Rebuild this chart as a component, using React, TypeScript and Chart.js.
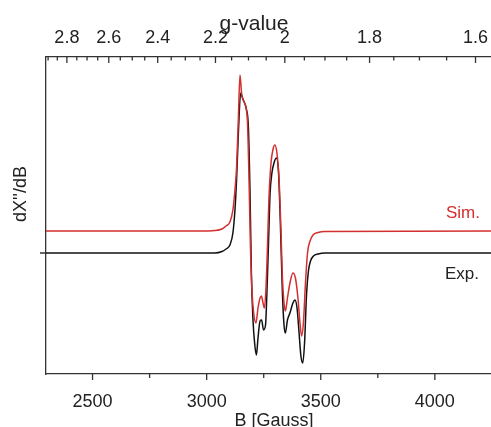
import React, { useEffect, useRef } from "react";
import { Chart, registerables } from "chart.js";

Chart.register(...registerables);

// ---- data ----
const bMajorTicks = [2500, 3000, 3500, 4000];
const bMinorTicks = [2750, 3250, 3750];
const gMajorTicks = [2.8, 2.6, 2.4, 2.2, 2.0, 1.8, 1.6];
const gTickLabels = ["2.8", "2.6", "2.4", "2.2", "2", "1.8", "1.6"];
const gMinorTicks = [2.9, 2.85, 2.75, 2.7, 2.65, 2.55, 2.5, 2.45, 2.35, 2.3, 2.25, 2.15, 2.1, 2.05, 1.95, 1.9, 1.85, 1.75, 1.7, 1.65];
const gFactor = 6685; // g * B [Gauss]
const bRange = [2296, 4246];
const yRange = [-121, 196];

const expB = [2296, 2970, 3036, 3067, 3085, 3102, 3115, 3124, 3131, 3139, 3149, 3157, 3166, 3174, 3183, 3190, 3196, 3203, 3211, 3218, 3225, 3234, 3241, 3249, 3258, 3264, 3271, 3278, 3286, 3295, 3306, 3315, 3323, 3332, 3339, 3345, 3354, 3365, 3378, 3387, 3396, 3405, 3413, 3421, 3429, 3438, 3446, 3455, 3468, 3488, 3519, 4246];
const expY = [0, 0, 0, 1.5, 4, 8, 20, 43, 73, 120, 160, 155, 150, 144, 125, 60, -20, -67, -92, -102, -85, -68, -67, -77, -72, -40, 10, 60, 80, 90, 95, 80, 30, -40, -72, -80, -67, -60, -50, -47, -55, -80, -103, -110, -90, -40, -18, -8, -3, -1, 0, 0];

const simB = [2296, 2970, 3036, 3067, 3085, 3102, 3115, 3124, 3131, 3139, 3146, 3153, 3160, 3172, 3179, 3186, 3192, 3199, 3207, 3216, 3225, 3234, 3240, 3247, 3253, 3260, 3267, 3273, 3282, 3291, 3299, 3308, 3317, 3326, 3332, 3339, 3345, 3354, 3365, 3378, 3389, 3400, 3409, 3416, 3424, 3433, 3442, 3453, 3466, 3488, 3519, 4246];
const simY = [22, 22, 22.5, 24, 27, 31, 43, 63, 85, 135, 178, 160, 153, 146, 130, 70, 5, -40, -62, -70, -55, -45, -43, -50, -55, -35, 10, 55, 90, 104, 108, 100, 75, 20, -25, -50, -58, -45, -30, -20, -25, -45, -70, -83, -70, -30, 0, 12, 18, 20.5, 21.5, 22];

// ---- styles ----
const FONT = "'Liberation Sans', Arial, Helvetica, sans-serif";
const AXIS = "#333333";
const TEXT = "#222222";
const RED = "#d42f2f";
const BLACK = "#111111";

const decorPlugin = {
  id: "decor",
  afterDraw(chart: any) {
    const { ctx, chartArea: a, scales } = chart;
    const x = scales.x;
    const x2 = scales.x2;
    const y = scales.y;
    ctx.save();
    ctx.strokeStyle = AXIS;
    ctx.lineWidth = 1.3;
    ctx.beginPath();
    bMajorTicks.forEach((v) => {
      const p = x.getPixelForValue(v);
      ctx.moveTo(p, a.bottom);
      ctx.lineTo(p, a.bottom + 6);
    });
    bMinorTicks.forEach((v) => {
      const p = x.getPixelForValue(v);
      ctx.moveTo(p, a.bottom);
      ctx.lineTo(p, a.bottom + 4);
    });
    gMajorTicks.forEach((g) => {
      const p = x2.getPixelForValue(gFactor / g);
      ctx.moveTo(p, a.top);
      ctx.lineTo(p, a.top + 6);
    });
    gMinorTicks.forEach((g) => {
      const p = x2.getPixelForValue(gFactor / g);
      ctx.moveTo(p, a.top);
      ctx.lineTo(p, a.top + 3.5);
    });
    const p0 = y.getPixelForValue(0);
    ctx.moveTo(a.left - 6, p0);
    ctx.lineTo(a.left, p0);
    ctx.stroke();

    ctx.fillStyle = TEXT;
    ctx.textBaseline = "alphabetic";
    ctx.textAlign = "center";
    ctx.font = `21px ${FONT}`;
    ctx.fillText("g-value", 254, 30);
    ctx.font = `18px ${FONT}`;
    ctx.fillText("B [Gauss]", 274, 426);

    ctx.save();
    ctx.translate(21, 194);
    ctx.rotate(-Math.PI / 2);
    ctx.textBaseline = "middle";
    ctx.font = `18px ${FONT}`;
    ctx.fillText("dX''/dB", 0, 0);
    ctx.restore();

    ctx.textAlign = "left";
    ctx.font = `17px ${FONT}`;
    ctx.fillStyle = RED;
    ctx.fillText("Sim.", 446, 218);
    ctx.fillStyle = TEXT;
    ctx.fillText("Exp.", 445, 279);
    ctx.restore();
  },
};

export default function App() {
  const ref = useRef<HTMLCanvasElement | null>(null);

  useEffect(() => {
    if (!ref.current) return;
    const tickFont = { family: FONT, size: 18 };
    const noPad = (s: any) => {
      s.paddingLeft = 0;
      s.paddingRight = 0;
    };
    const chart = new Chart(ref.current, {
      type: "line",
      data: {
        datasets: [
          {
            label: "Sim.",
            data: simB.map((b, i) => ({ x: b, y: simY[i] })),
            borderColor: RED,
            borderWidth: 1.5,
            pointRadius: 0,
            cubicInterpolationMode: "monotone",
            fill: false,
            order: 0,
          },
          {
            label: "Exp.",
            data: expB.map((b, i) => ({ x: b, y: expY[i] })),
            borderColor: BLACK,
            borderWidth: 1.5,
            pointRadius: 0,
            cubicInterpolationMode: "monotone",
            fill: false,
            order: 1,
          },
        ],
      },
      options: {
        responsive: false,
        animation: false,
        layout: { padding: 0 },
        plugins: {
          legend: { display: false },
          tooltip: { enabled: false },
          title: { display: false },
        },
        scales: {
          x: {
            type: "linear",
            position: "bottom",
            min: bRange[0],
            max: bRange[1],
            afterBuildTicks: (s: any) => {
              s.ticks = bMajorTicks.map((v) => ({ value: v }));
            },
            afterFit: (s: any) => {
              s.height = 53;
              noPad(s);
            },
            ticks: {
              autoSkip: false,
              maxRotation: 0,
              padding: 17,
              color: TEXT,
              font: tickFont,
              callback: (v: any) => String(v),
            },
            grid: { display: false, drawTicks: false },
            border: { display: true, color: AXIS, width: 1.3 },
          },
          x2: {
            type: "linear",
            position: "top",
            min: bRange[0],
            max: bRange[1],
            afterBuildTicks: (s: any) => {
              s.ticks = gMajorTicks.map((g) => ({ value: gFactor / g }));
            },
            afterFit: (s: any) => {
              s.height = 57;
              noPad(s);
            },
            ticks: {
              autoSkip: false,
              maxRotation: 0,
              padding: 8,
              color: TEXT,
              font: tickFont,
              callback: (_v: any, i: number) => gTickLabels[i],
            },
            grid: { display: false, drawTicks: false },
            border: { display: true, color: AXIS, width: 1.3 },
          },
          y: {
            type: "linear",
            min: yRange[0],
            max: yRange[1],
            afterBuildTicks: (s: any) => {
              s.ticks = [{ value: 0 }];
            },
            afterFit: (s: any) => {
              s.width = 46;
              s.paddingTop = 0;
              s.paddingBottom = 0;
            },
            ticks: { display: false },
            grid: { display: false, drawTicks: false },
            border: { display: true, color: AXIS, width: 1.3 },
          },
        },
      },
      plugins: [decorPlugin],
    } as any);
    return () => chart.destroy();
  }, []);

  return (
    <div style={{ position: "fixed", left: 0, top: 0, width: 491, height: 427, overflow: "hidden", background: "#fff" }}>
      <canvas ref={ref} width={491} height={427} style={{ display: "block", width: 491, height: 427 }} />
    </div>
  );
}
